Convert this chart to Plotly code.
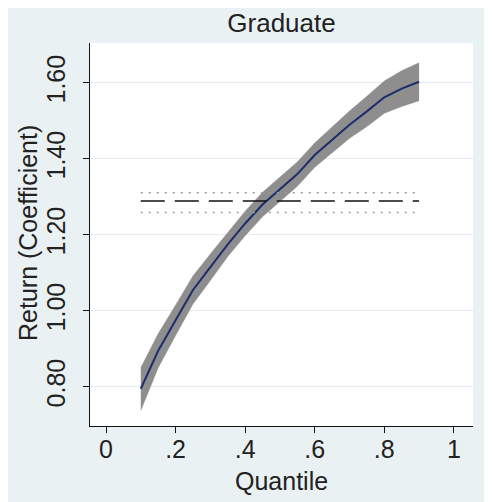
import plotly.graph_objects as go

# ---- data ----
quantiles = [0.10, 0.15, 0.20, 0.25, 0.30, 0.35, 0.40, 0.45, 0.50,
             0.55, 0.60, 0.65, 0.70, 0.75, 0.80, 0.85, 0.90]
coef = [0.795, 0.895, 0.975, 1.055, 1.115, 1.175, 1.230, 1.280, 1.320,
        1.360, 1.410, 1.450, 1.490, 1.525, 1.562, 1.585, 1.603]
lower = [0.738, 0.850, 0.935, 1.018, 1.080, 1.143, 1.198, 1.248, 1.288,
         1.328, 1.378, 1.416, 1.454, 1.485, 1.520, 1.538, 1.553]
upper = [0.850, 0.940, 1.015, 1.092, 1.150, 1.207, 1.262, 1.312, 1.352,
         1.392, 1.442, 1.484, 1.526, 1.565, 1.605, 1.632, 1.653]
ols_q = [0.10, 0.90]
ols_coef = [1.289, 1.289]
ols_lower = [1.259, 1.259]
ols_upper = [1.311, 1.311]

x_ticks = [0, 0.2, 0.4, 0.6, 0.8, 1.0]
x_tick_text = ["0", ".2", ".4", ".6", ".8", "1"]
y_ticks = [0.8, 1.0, 1.2, 1.4, 1.6]
y_tick_text = ["0.80", "1.00", "1.20", "1.40", "1.60"]

title_text = "Graduate"
x_title = "Quantile"
y_title = "Return (Coefficient)"

BG = "#eaf1f3"
GRID = "#e3ecef"
FONT = "Liberation Sans, Arial, sans-serif"

fig = go.Figure()

# confidence band
fig.add_trace(go.Scatter(x=quantiles, y=lower, mode="lines",
                         line=dict(color="#8e8e8e", width=0.5),
                         showlegend=False, hoverinfo="skip"))
fig.add_trace(go.Scatter(x=quantiles, y=upper, mode="lines", fill="tonexty",
                         fillcolor="#8e8e8e",
                         line=dict(color="#8e8e8e", width=0.5),
                         showlegend=False, hoverinfo="skip"))
# quantile coefficient
fig.add_trace(go.Scatter(x=quantiles, y=coef, mode="lines",
                         line=dict(color="#1c2c6c", width=2),
                         showlegend=False))
# OLS estimate and its CI
fig.add_trace(go.Scatter(x=ols_q, y=ols_upper, mode="lines",
                         line=dict(color="#9a9a9a", width=1.5, dash="2px,6px"),
                         showlegend=False))
fig.add_trace(go.Scatter(x=ols_q, y=ols_lower, mode="lines",
                         line=dict(color="#9a9a9a", width=1.5, dash="2px,6px"),
                         showlegend=False))
fig.add_trace(go.Scatter(x=ols_q, y=ols_coef, mode="lines",
                         line=dict(color="#111111", width=1.5, dash="24px,10px"),
                         showlegend=False))

fig.update_layout(
    width=484, height=494,
    margin=dict(l=82, r=19, t=35, b=76),
    paper_bgcolor=BG, plot_bgcolor="white",
    font=dict(family=FONT, size=25, color="#222222"),
    title=dict(text=title_text, x=0.5, xref="paper", xanchor="center",
               y=1 - 15 / 494, yanchor="middle",
               font=dict(size=26, color="#222222")),
    showlegend=False,
)
fig.update_xaxes(range=[-0.046, 1.055], tickvals=x_ticks, ticktext=x_tick_text,
                 showgrid=False, zeroline=False, showline=True,
                 linecolor="#111111", linewidth=1, ticks="outside",
                 ticklen=6, tickcolor="#111111", ticklabelstandoff=-5)
fig.update_yaxes(range=[0.697, 1.705], tickvals=y_ticks, ticktext=y_tick_text,
                 tickangle=-90, showgrid=True, gridcolor=GRID, gridwidth=1,
                 zeroline=False, showline=True, linecolor="#111111",
                 linewidth=1, ticks="outside", ticklen=6,
                 tickcolor="#111111", ticklabelstandoff=8)

fig.add_annotation(text=x_title, xref="paper", yref="paper",
                   x=0.5, y=-(473 - 418) / 383, xanchor="center",
                   yanchor="middle", showarrow=False, font=dict(size=25))
fig.add_annotation(text=y_title, xref="paper", yref="paper",
                   x=(20 - 82) / 383, y=0.5 + (234.5 - 233) / 383,
                   xanchor="center", yanchor="middle", textangle=-90,
                   showarrow=False, font=dict(size=25))

fig.write_html("out.html")
